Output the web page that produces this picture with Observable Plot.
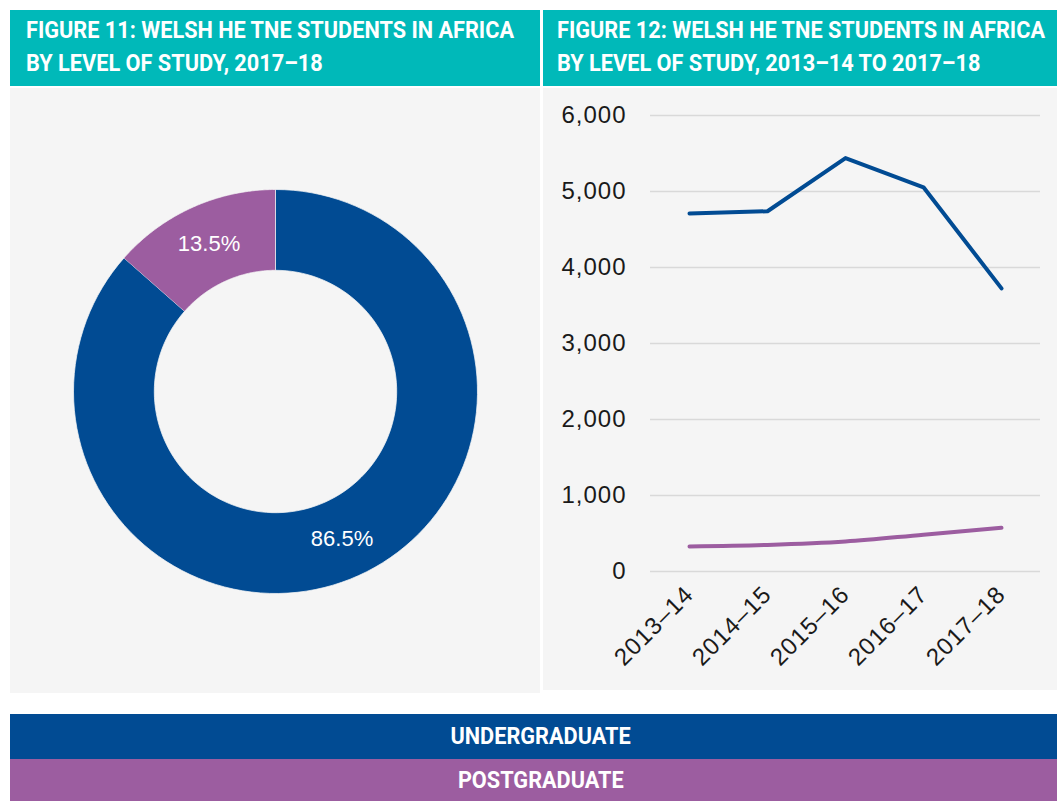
<!DOCTYPE html>
<html>
<head>
<meta charset="utf-8">
<script src="https://cdn.jsdelivr.net/npm/d3@7"></script>
<script src="https://cdn.jsdelivr.net/npm/@observablehq/plot@0.6"></script>
<style>
  html, body { margin: 0; padding: 0; background: #ffffff; }
  body { width: 1057px; height: 801px; position: relative; overflow: hidden; font-family: "Liberation Sans", Arial, sans-serif; }
  .hdr { position: absolute; top: 10px; height: 76px; background: #00B9B9; color: #ffffff;
         font-family: Roboto, "Liberation Sans", sans-serif;
         font-weight: bold; font-size: 23.5px; line-height: 33.4px; box-sizing: border-box; padding: 4px 0 0 16px; white-space: nowrap; }
  .cond { display: inline-block; transform-origin: 0 50%; white-space: nowrap; }
  .panel { position: absolute; background: #F5F5F5; }
  .panel svg { display: block; }
  .leg { position: absolute; left: 10px; width: 1047px; color: #ffffff; text-align: center;
         font-family: Roboto, "Liberation Sans", sans-serif;
         font-weight: bold; font-size: 23.5px; box-sizing: border-box; padding-left: 14px; white-space: nowrap; }
  .leg .cond { transform-origin: 50% 50%; }
</style>
</head>
<body>
<div class="hdr" style="left:10px;width:530px;"><span class="cond" id="probe">FIGURE 11: WELSH HE TNE STUDENTS IN AFRICA</span><br><span class="cond">BY LEVEL OF STUDY, 2017–18</span></div>
<div class="hdr" style="left:543px;width:514px;padding-left:14px;"><span class="cond">FIGURE 12: WELSH HE TNE STUDENTS IN AFRICA</span><br><span class="cond">BY LEVEL OF STUDY, 2013–14 TO 2017–18</span></div>
<div class="panel" id="donut" style="left:10px;top:88px;width:530px;height:605px;"></div>
<div class="panel" id="lines" style="left:543px;top:88px;width:514px;height:602px;"></div>
<div id="legend"></div>
<script>
// ---- data ----
const levels = ["Undergraduate", "Postgraduate"];
const levelColors = ["#014B93", "#9C5DA0"];
const share2017 = [86.5, 13.5];
const shareLabels = ["86.5%", "13.5%"];
const years = ["2013–14", "2014–15", "2015–16", "2016–17", "2017–18"];
const undergraduate = [4710, 4740, 5440, 5055, 3725];
const postgraduate = [330, 350, 395, 485, 575];
const yTicks = [0, 1000, 2000, 3000, 4000, 5000, 6000];

// ---- donut (Figure 11) ----
const innerR = 0.6, outerR = 1;
const arcs = d3.pie().sort(null).startAngle(0).endAngle(2 * Math.PI)(share2017);
const poly = [];
arcs.forEach((a, i) => {
  const n = 120;
  for (let k = 0; k <= n; k++) {
    const t = a.startAngle + (a.endAngle - a.startAngle) * k / n;
    poly.push({level: levels[i], color: levelColors[i], x: outerR * Math.sin(t), y: outerR * Math.cos(t)});
  }
  for (let k = n; k >= 0; k--) {
    const t = a.startAngle + (a.endAngle - a.startAngle) * k / n;
    poly.push({level: levels[i], color: levelColors[i], x: innerR * Math.sin(t), y: innerR * Math.cos(t)});
  }
});
const labelsPos = arcs.map((a, i) => {
  const m = (a.startAngle + a.endAngle) / 2, r = (innerR + outerR) / 2;
  return {text: shareLabels[i], x: r * Math.sin(m), y: r * Math.cos(m)};
});

const donut = Plot.plot({
  width: 530, height: 605,
  marginLeft: 63, marginRight: 63, marginTop: 101, marginBottom: 100,
  x: {domain: [-1, 1], axis: null},
  y: {domain: [-1, 1], axis: null},
  color: {type: "identity"},
  style: {background: "transparent", fontFamily: "Liberation Sans, Arial, sans-serif"},
  marks: [
    Plot.line(poly, {x: "x", y: "y", z: "level", fill: "color", stroke: "#F5F5F5", strokeWidth: 0.75, curve: "linear"}),
    Plot.text(labelsPos, {x: "x", y: "y", text: "text", fill: "#ffffff", fontSize: 22})
  ]
});
document.getElementById("donut").appendChild(donut);

// ---- line chart (Figure 12) ----
const rowsUG = years.map((y, i) => ({year: y, level: levels[0], value: undergraduate[i]}));
const rowsPG = years.map((y, i) => ({year: y, level: levels[1], value: postgraduate[i]}));

const lines = Plot.plot({
  width: 514, height: 602,
  marginLeft: 107, marginRight: 17, marginTop: 27, marginBottom: 119,
  style: {background: "transparent", fontFamily: "Liberation Sans, Arial, sans-serif", color: "#1a1a1a", letterSpacing: "1px"},
  x: {type: "point", domain: years, padding: 0.5},
  y: {domain: [0, 6000]},
  marks: [
    Plot.ruleY(yTicks, {stroke: "#D9D9D9", strokeWidth: 1.5}),
    Plot.axisY({ticks: yTicks, tickFormat: d3.format(","), label: null, tickSize: 0, tickPadding: 24, fontSize: 24}),
    Plot.axisX({label: null, tickSize: 0, tickPadding: 19, tickRotate: -45, fontSize: 24}),
    Plot.line(rowsUG, {x: "year", y: "value", stroke: levelColors[0], strokeWidth: 4, strokeLinecap: "round", strokeLinejoin: "round"}),
    Plot.line(rowsPG, {x: "year", y: "value", stroke: levelColors[1], strokeWidth: 4, strokeLinecap: "round", curve: "monotone-x"})
  ]
});
document.getElementById("lines").appendChild(lines);

// ---- legend ----
const legend = document.getElementById("legend");
const legTops = [714, 759], legHeights = [45, 42];
levels.forEach((l, i) => {
  const d = document.createElement("div");
  d.className = "leg";
  d.style.top = legTops[i] + "px";
  d.style.height = legHeights[i] + "px";
  d.style.lineHeight = legHeights[i] + "px";
  d.style.background = levelColors[i];
  const s = document.createElement("span");
  s.className = "cond";
  s.textContent = l.toUpperCase();
  d.appendChild(s);
  legend.appendChild(d);
});

// condense the headline type to the reference's narrow face
const natural = document.getElementById("probe").getBoundingClientRect().width;
const k = 488 / natural;
document.querySelectorAll(".cond").forEach(e => { e.style.transform = `scaleX(${k})`; });
</script>
</body>
</html>
